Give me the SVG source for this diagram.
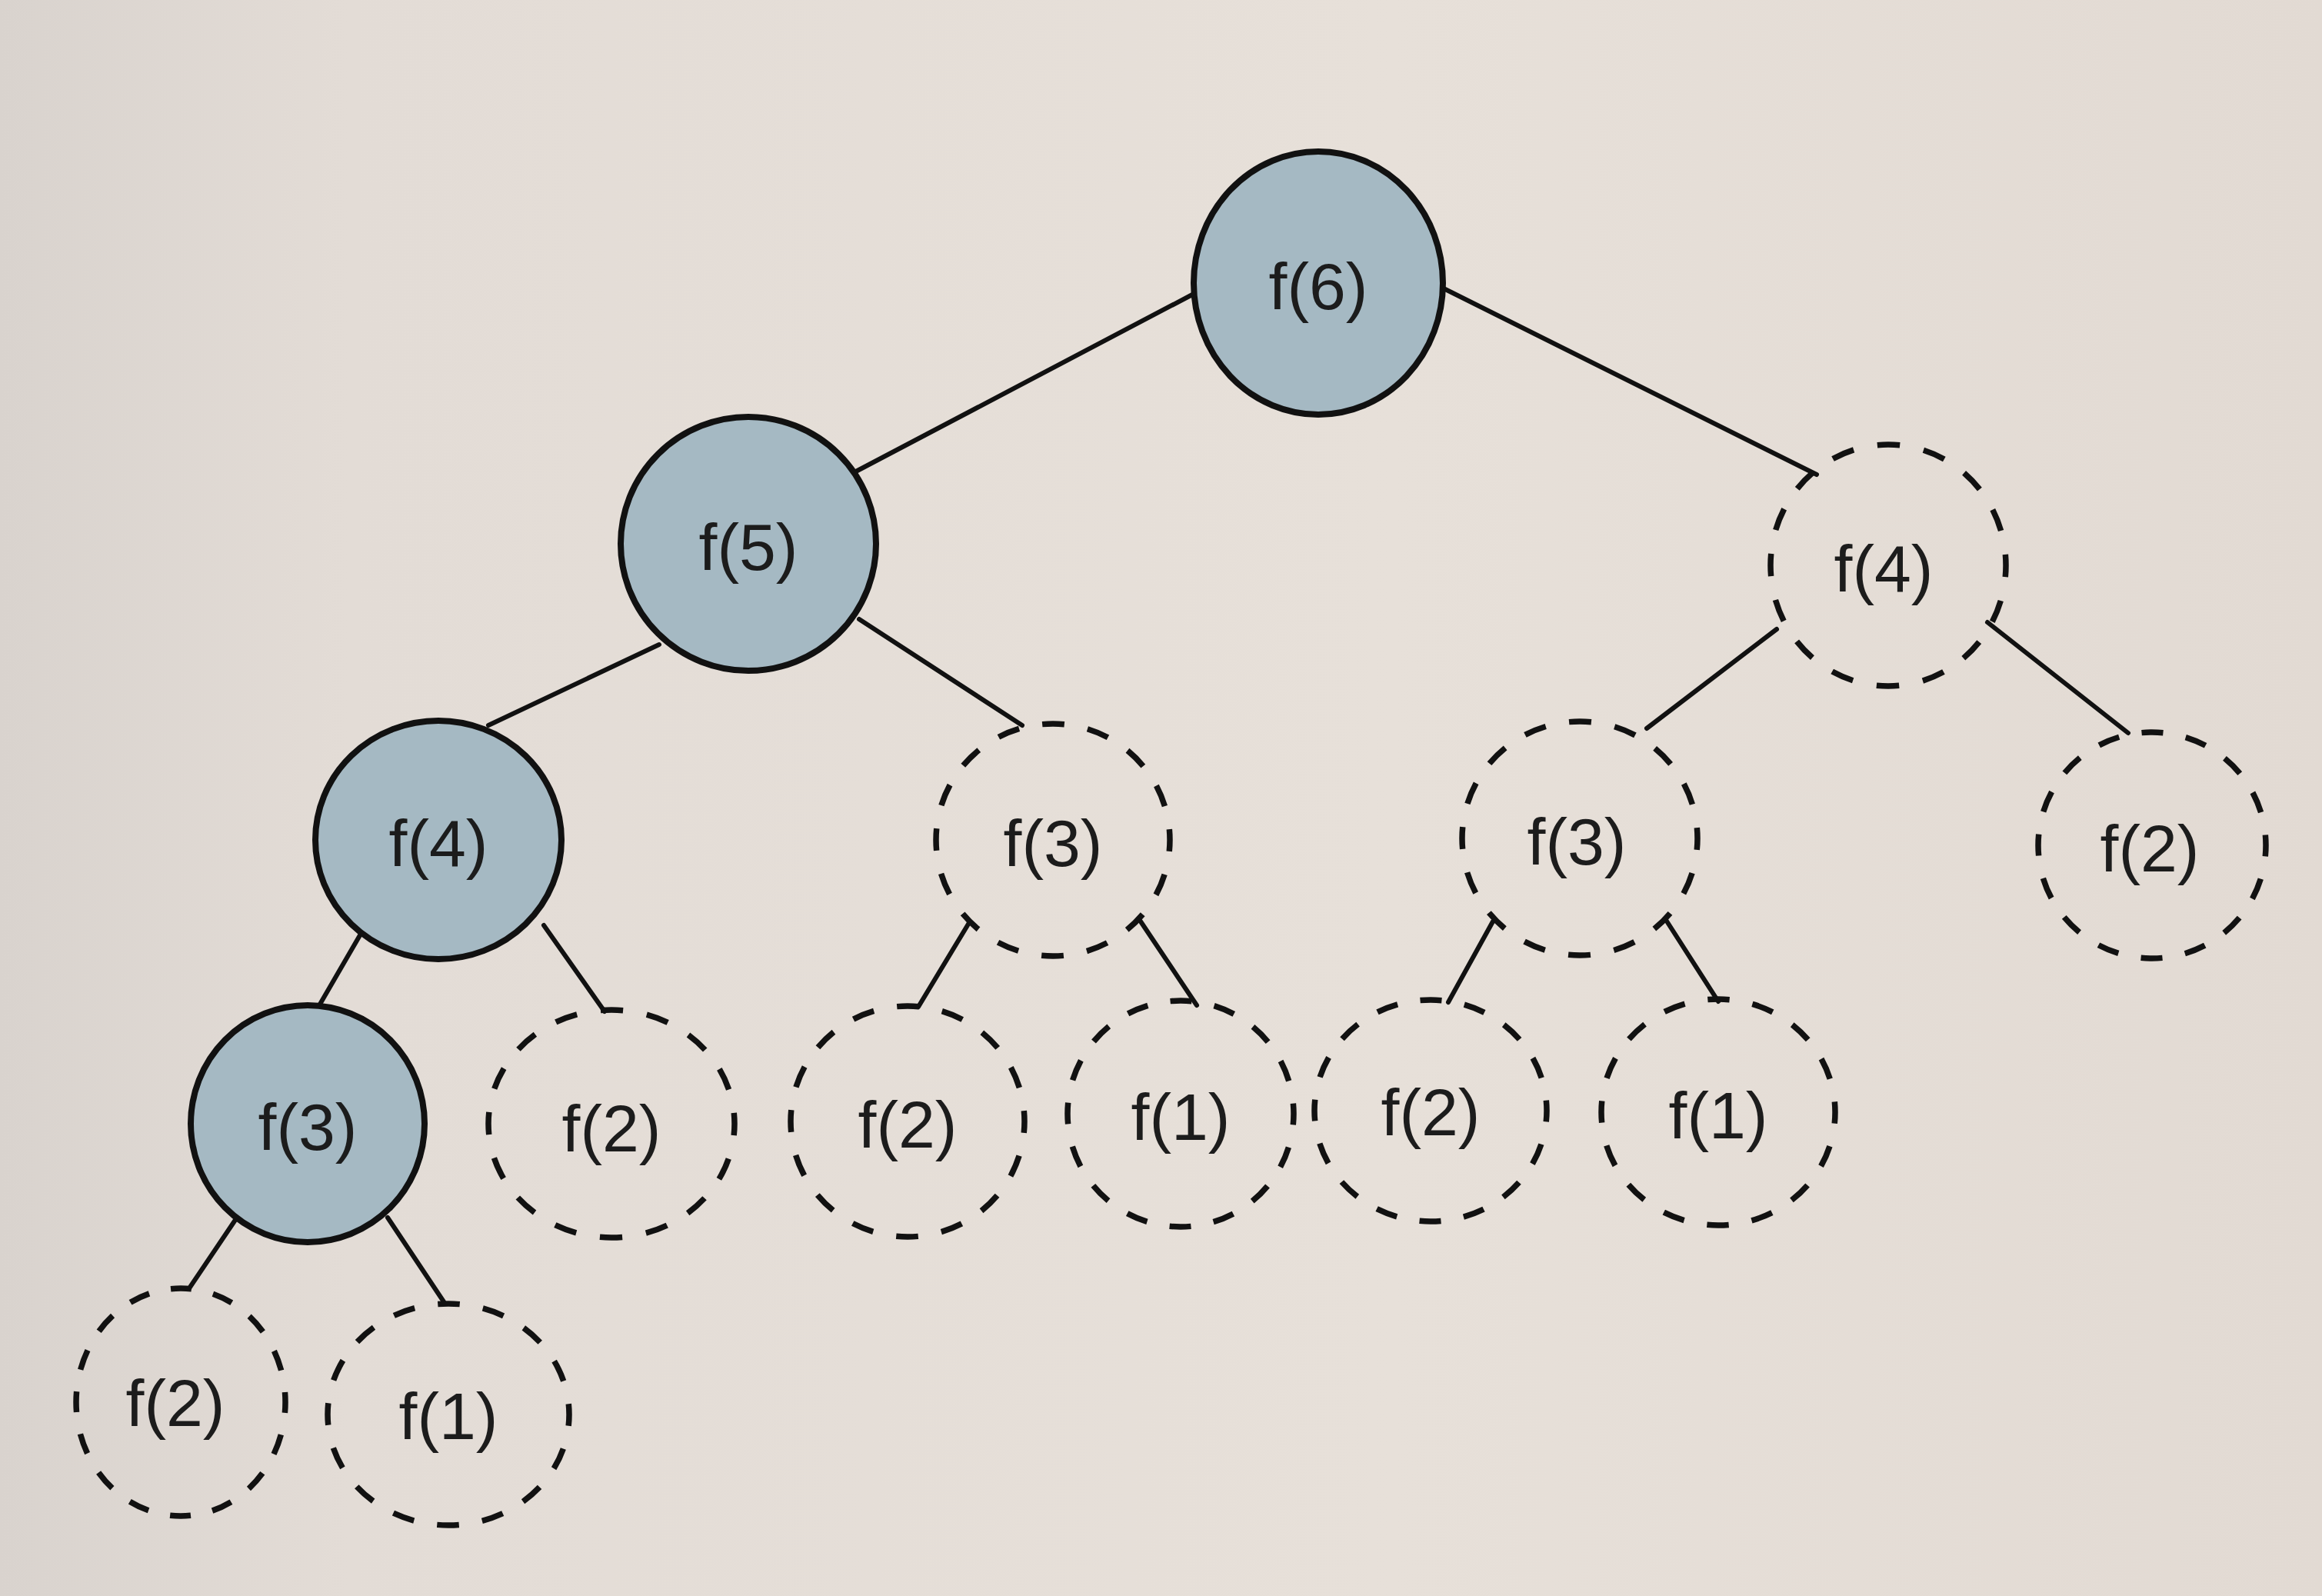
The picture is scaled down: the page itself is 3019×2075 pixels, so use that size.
<svg xmlns="http://www.w3.org/2000/svg" width="3019" height="2075" viewBox="0 0 3019 2075">
<defs>
<linearGradient id="paper" x1="0" y1="0" x2="1" y2="0">
<stop offset="0" stop-color="#d9d3ce"/>
<stop offset="0.15" stop-color="#e3dcd6"/>
<stop offset="0.6" stop-color="#e7e0d9"/>
<stop offset="1" stop-color="#e2dad3"/>
</linearGradient>
<style>
.solid{fill:#a5b9c3;stroke:#111;stroke-width:8}
.dash{fill:none;stroke:#111;stroke-width:7.5;stroke-dasharray:29 31;stroke-dashoffset:14}
.lbl{font-family:"Liberation Sans",Arial,sans-serif;font-size:86px;fill:#1c1c1c;text-anchor:middle;dominant-baseline:central}
.edge{stroke:#111;stroke-width:6;fill:none;stroke-linecap:round}
</style>
</defs>
<rect x="0" y="0" width="3019" height="2075" fill="url(#paper)"/>
<g id="connectors">
<line class="edge" x1="1554" y1="381" x2="1107" y2="616"/>
<line class="edge" x1="1877" y1="375" x2="2362" y2="617"/>
<line class="edge" x1="857" y1="838" x2="635" y2="943"/>
<line class="edge" x1="1117" y1="805" x2="1329" y2="943"/>
<line class="edge" x1="2310" y1="818" x2="2141" y2="947"/>
<line class="edge" x1="2584" y1="809" x2="2767" y2="953"/>
<line class="edge" x1="472" y1="1209" x2="414" y2="1309"/>
<line class="edge" x1="707" y1="1203" x2="786" y2="1315"/>
<line class="edge" x1="1261" y1="1198" x2="1194" y2="1309"/>
<line class="edge" x1="1483" y1="1198" x2="1556" y2="1307"/>
<line class="edge" x1="1941" y1="1198" x2="1883" y2="1303"/>
<line class="edge" x1="2166" y1="1196" x2="2234" y2="1302"/>
<line class="edge" x1="308" y1="1583" x2="246" y2="1675"/>
<line class="edge" x1="504" y1="1583" x2="578" y2="1694"/>
</g>
<g id="n-f6"><ellipse class="solid" cx="1714" cy="368" rx="162" ry="171"/><text class="lbl" x="1714" y="372">f(6)</text></g>
<g id="n-f5"><ellipse class="solid" cx="973" cy="707" rx="166" ry="165"/><text class="lbl" x="973" y="711">f(5)</text></g>
<g id="n-f4a"><ellipse class="solid" cx="570" cy="1092" rx="160" ry="155"/><text class="lbl" x="570" y="1096">f(4)</text></g>
<g id="n-f3a"><ellipse class="solid" cx="400" cy="1461" rx="152" ry="154"/><text class="lbl" x="400" y="1465">f(3)</text></g>
<g id="n-f4b"><ellipse class="dash" pathLength="960" cx="2455" cy="735" rx="153" ry="157"/><text class="lbl" x="2449" y="739">f(4)</text></g>
<g id="n-f3b"><ellipse class="dash" pathLength="960" cx="1369" cy="1092" rx="152" ry="151"/><text class="lbl" x="1369" y="1096">f(3)</text></g>
<g id="n-f3c"><ellipse class="dash" pathLength="960" cx="2054" cy="1090" rx="153" ry="152"/><text class="lbl" x="2050" y="1094">f(3)</text></g>
<g id="n-f2a"><ellipse class="dash" pathLength="960" cx="2798" cy="1099" rx="148" ry="147"/><text class="lbl" x="2795" y="1103">f(2)</text></g>
<g id="n-f2b"><ellipse class="dash" pathLength="960" cx="795" cy="1461" rx="160" ry="148"/><text class="lbl" x="795" y="1467">f(2)</text></g>
<g id="n-f2c"><ellipse class="dash" pathLength="960" cx="1180" cy="1458" rx="152" ry="150"/><text class="lbl" x="1180" y="1462">f(2)</text></g>
<g id="n-f1a"><ellipse class="dash" pathLength="960" cx="1535" cy="1448" rx="147" ry="147"/><text class="lbl" x="1535" y="1452">f(1)</text></g>
<g id="n-f2d"><ellipse class="dash" pathLength="960" cx="1860" cy="1444" rx="151" ry="144"/><text class="lbl" x="1860" y="1446">f(2)</text></g>
<g id="n-f1b"><ellipse class="dash" pathLength="960" cx="2234" cy="1446" rx="152" ry="147"/><text class="lbl" x="2234" y="1450">f(1)</text></g>
<g id="n-f2e"><ellipse class="dash" pathLength="960" cx="235" cy="1823" rx="136" ry="148"/><text class="lbl" x="228" y="1824">f(2)</text></g>
<g id="n-f1c"><ellipse class="dash" pathLength="960" cx="583" cy="1839" rx="157" ry="144"/><text class="lbl" x="583" y="1841">f(1)</text></g>
</svg>
